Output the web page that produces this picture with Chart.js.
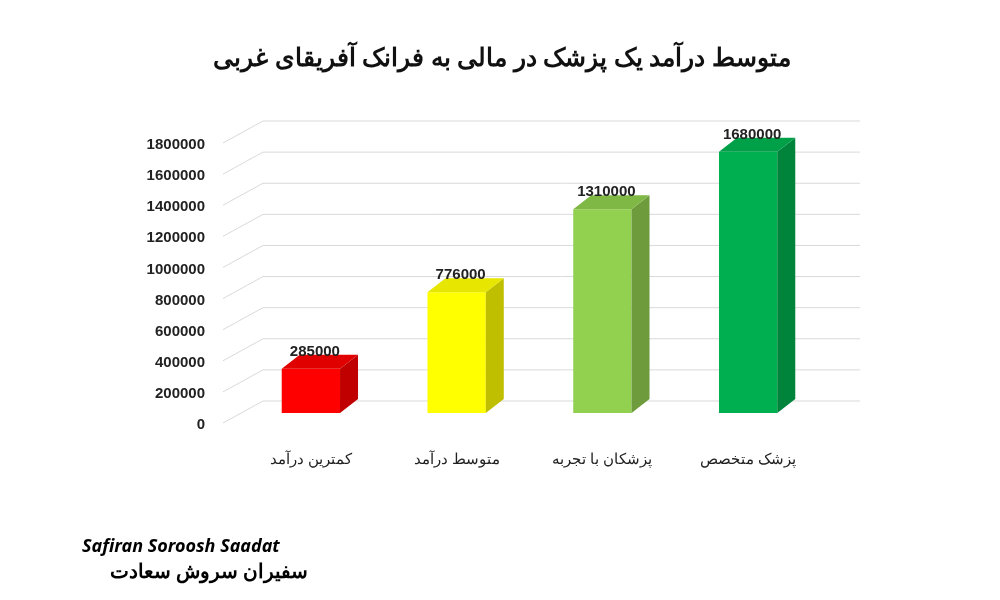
<!DOCTYPE html>
<html><head><meta charset="utf-8">
<script src="https://cdn.jsdelivr.net/npm/chart.js@4"></script>
<style>body{margin:0;background:#fff;font-family:"Noto Sans",sans-serif}#w{position:relative;width:1000px;height:600px}
#logo{position:absolute;left:20px;top:495px;font-weight:bold}</style></head>
<body><div id="w"><canvas id="c" width="1000" height="600"></canvas>
<div id="logo"><div style="font-size:18px;font-style:italic;margin-left:62px;margin-top:38px">Safiran Soroosh Saadat</div><div style="font-size:20px;margin-left:90px;direction:rtl;width:200px;text-align:left">سفیران سروش سعادت</div></div></div>
<script>
const categories=["کمترین درآمد","متوسط درآمد","پزشکان با تجربه","پزشک متخصص"];
const values=[285000,776000,1310000,1680000];
const frontColors=["#ff0000","#ffff00","#92d050","#00b050"];
const sideColors=["#c00000","#bfbf00","#6e9c3c","#00843c"];
const topColors=["#e00000","#e6e600","#7fb845","#00a048"];
const title="متوسط درآمد یک پزشک در مالی به فرانک آفریقای غربی";
const DX=18,DY=14;
const plug={id:'p',
beforeDatasetsDraw(ch){const c=ch.ctx,a=ch.chartArea,y=ch.scales.y;c.save();c.strokeStyle="#d9d9d9";c.lineWidth=1;
 y.ticks.forEach(t=>{const py=y.getPixelForValue(t.value);c.beginPath();c.moveTo(a.left-15,py+10);c.lineTo(a.left+25,py-12);c.lineTo(860,py-12);c.stroke();});c.restore();},
afterDatasetsDraw(ch){const c=ch.ctx;const m=ch.getDatasetMeta(0);c.save();
 m.data.forEach((b,i)=>{const l=b.x-b.width/2,r=b.x+b.width/2,t=b.y,bt=b.base;
  c.fillStyle=sideColors[i];c.beginPath();c.moveTo(r,t);c.lineTo(r+DX,t-DY);c.lineTo(r+DX,bt-DY);c.lineTo(r,bt);c.fill();
  c.fillStyle=topColors[i];c.beginPath();c.moveTo(l,t);c.lineTo(l+DX,t-DY);c.lineTo(r+DX,t-DY);c.lineTo(r,t);c.fill();
  c.fillStyle="#222";c.font="bold 15px 'Liberation Sans'";c.textAlign="center";c.fillText(values[i],b.x+4,t-13);});
 c.font="bold 25px 'Noto Sans'";c.textAlign="center";c.fillStyle="#111";c.fillText(title,502,66);c.restore();}};
new Chart(document.getElementById('c'),{type:'bar',
data:{labels:categories,datasets:[{data:values,backgroundColor:frontColors,barPercentage:0.4,categoryPercentage:1}]},
options:{responsive:false,animation:false,layout:{padding:{left:0,right:179,top:133,bottom:0}},
plugins:{legend:{display:false},tooltip:{enabled:false}},
scales:{y:{min:0,max:1800000,border:{display:false},grid:{display:false},afterFit(s){s.width=238;},
 ticks:{stepSize:200000,padding:25,labelOffset:12,color:"#222",callback:v=>String(v),font:{family:"Liberation Sans",size:15,weight:"bold"}}},
 x:{border:{display:false},grid:{display:false},afterFit(s){s.height=187;},
 ticks:{padding:30,color:"#222",font:{family:"Noto Sans",size:15}}}}},plugins:[plug]});
</script></body></html>
